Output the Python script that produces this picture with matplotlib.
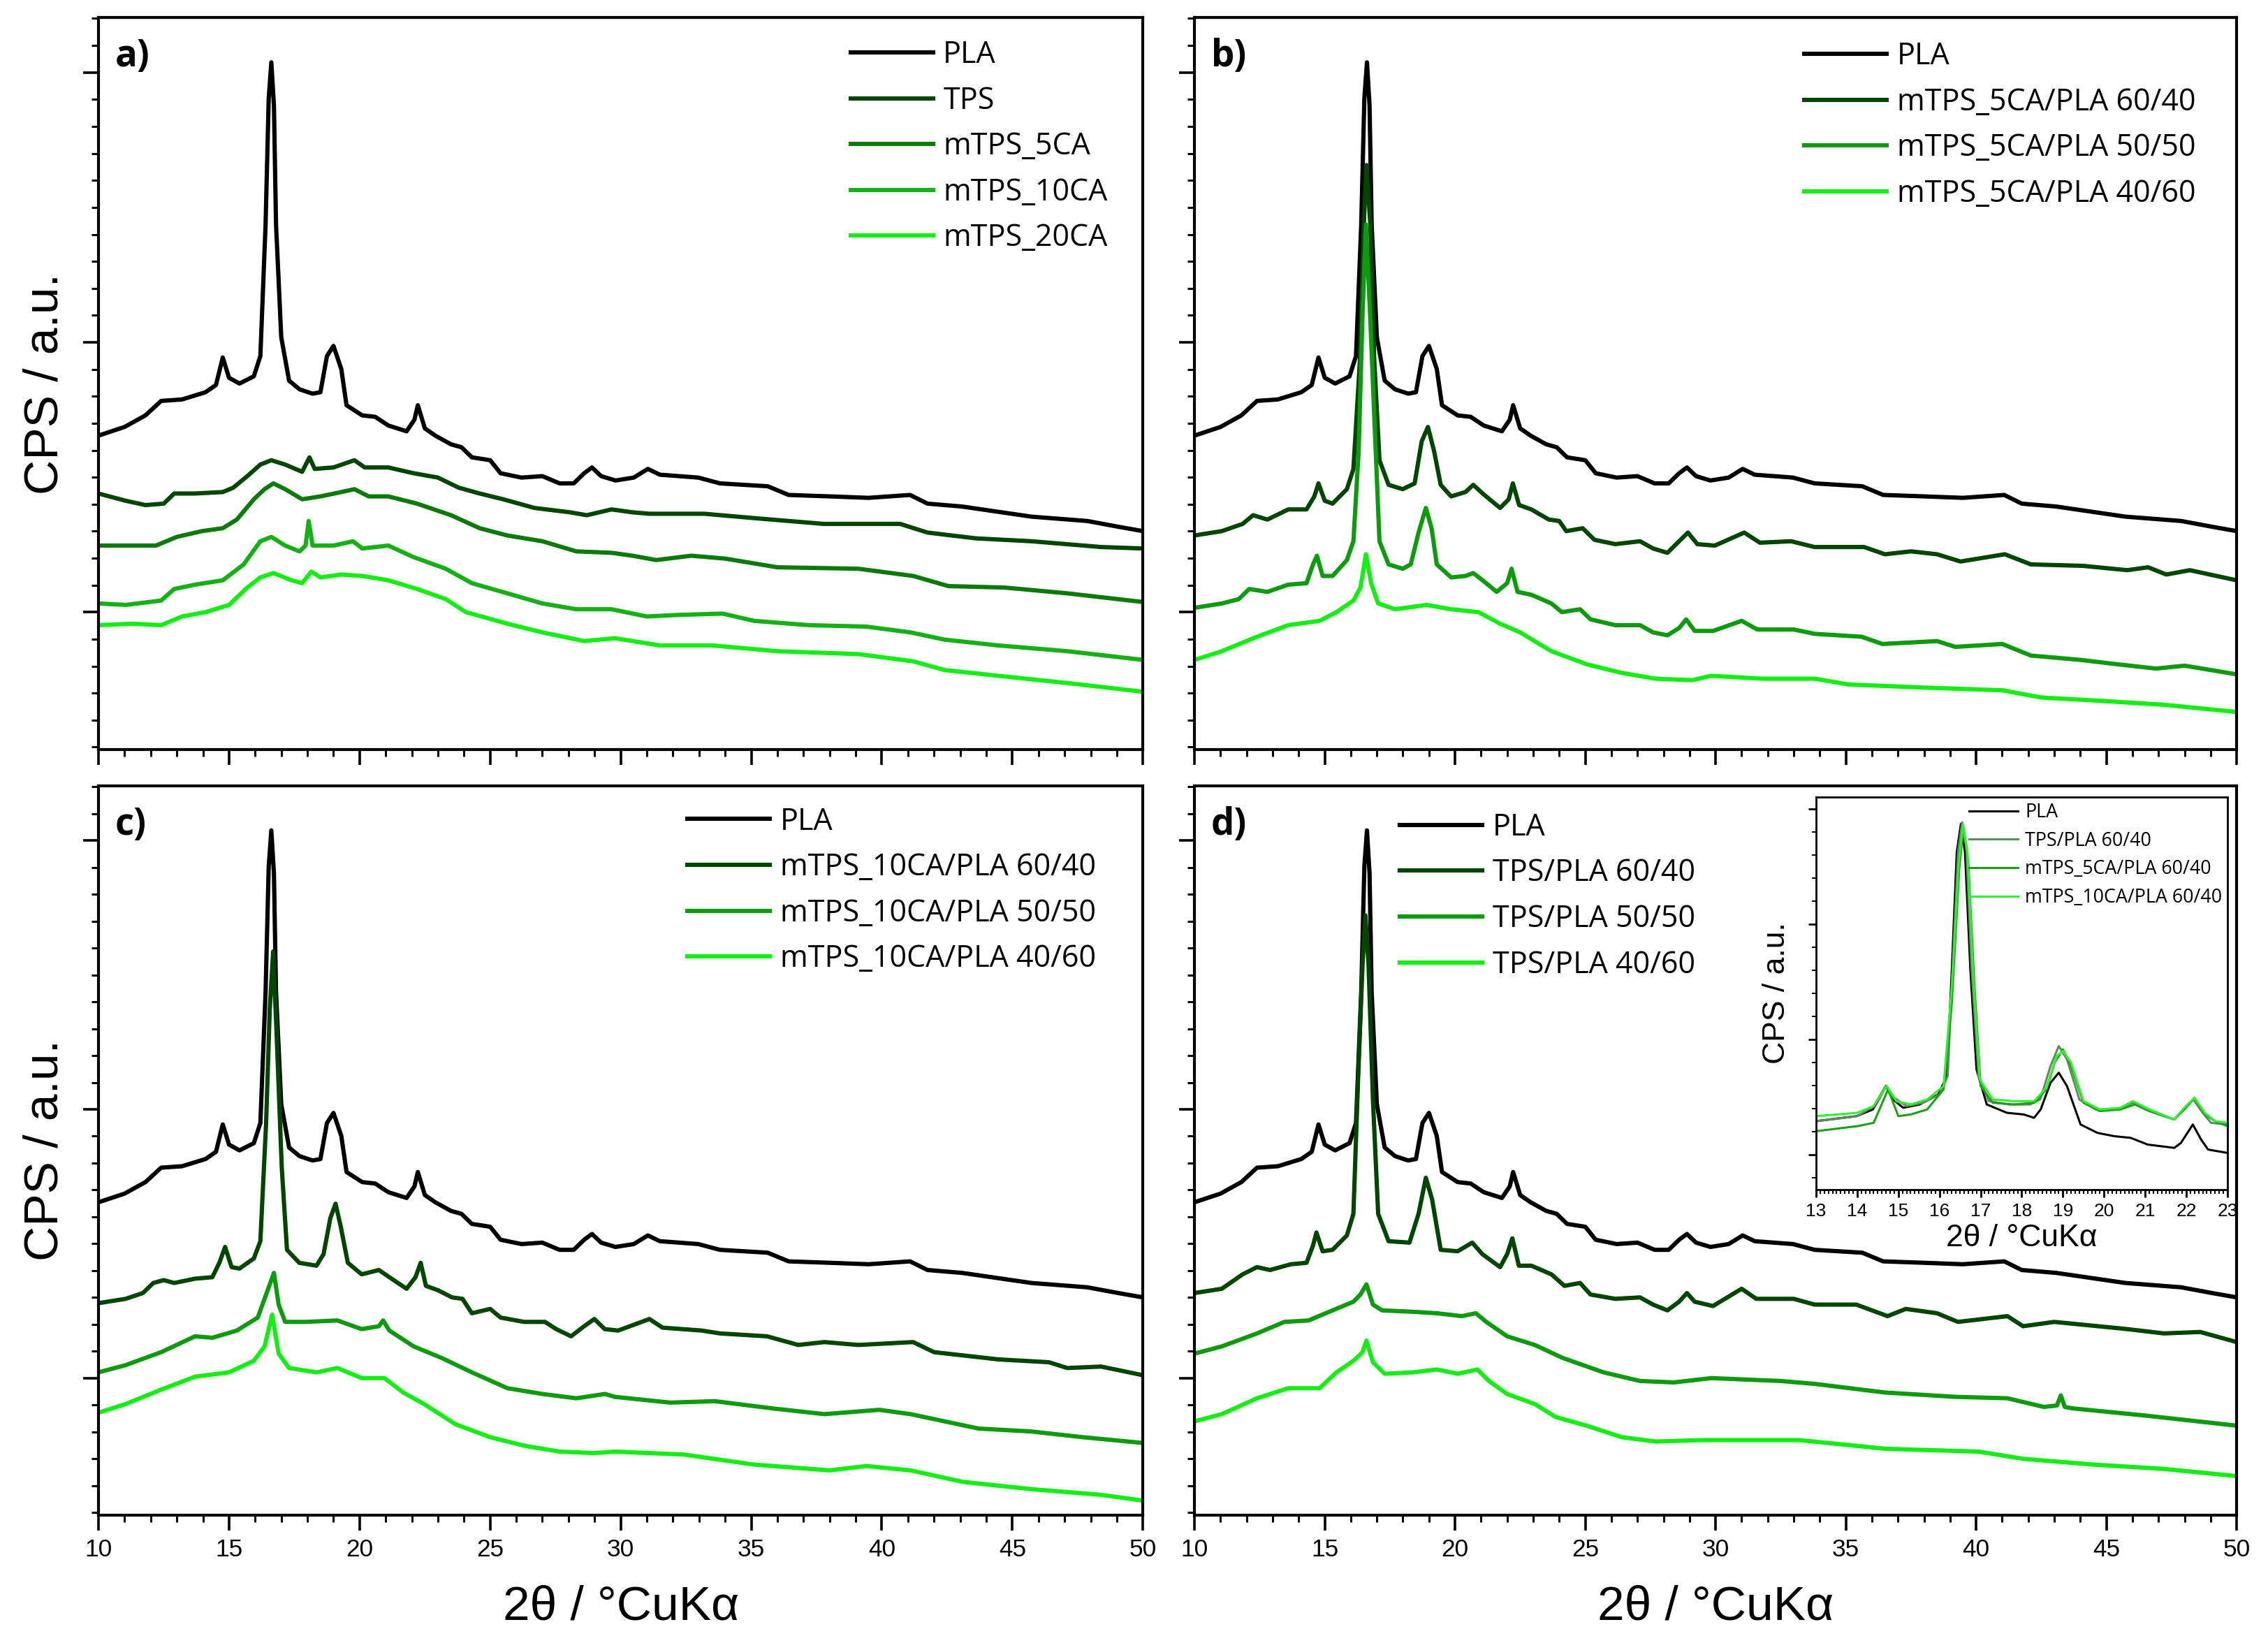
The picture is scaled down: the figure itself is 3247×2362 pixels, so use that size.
import matplotlib.pyplot as plt
from matplotlib.ticker import MultipleLocator, NullFormatter

plt.rcParams['font.family'] = ['Liberation Sans', 'DejaVu Sans']

# --- PLA reference pattern (same in all four panels) ---
pla_x = [10.0, 11.0, 11.8, 12.4, 13.2, 14.1, 14.5, 14.76, 15.0, 15.4, 15.95, 16.2, 16.4, 16.52,
         16.62, 16.72, 16.8, 17.0, 17.3, 17.7, 18.2, 18.5, 18.75, 19.0, 19.3, 19.5, 20.1, 20.6,
         21.1, 21.8, 22.1, 22.23, 22.5, 22.9, 23.5, 23.9, 24.3, 25.0, 25.4, 26.2, 27.0, 27.66,
         28.2, 28.6, 28.9, 29.25, 29.8, 30.5, 31.04, 31.5, 32.97, 33.8, 35.63, 36.43, 38.02,
         39.49, 41.08, 41.75, 43.07, 45.73, 47.87, 49.06, 50.0]
pla_y = [217, 223, 231, 241, 242, 247, 252, 271, 257, 253, 258, 272, 363, 450,
         475, 445, 363, 285, 255, 249, 246, 247, 272, 279, 263, 238, 231, 230,
         224, 220, 228, 238, 222, 217, 211, 209, 202, 200, 191, 188, 189, 184,
         184, 191, 195, 189, 186, 188, 194, 190, 188, 184, 182, 176, 175,
         174, 176, 170, 168, 161, 158, 154, 151]

# --- panel a ---
tps_x = [10.0, 11.04, 11.8, 12.5, 12.9, 13.7, 14.76, 15.16, 15.7, 16.2, 16.62, 17.15, 17.8, 18.08,
         18.28, 19.0, 19.8, 20.2, 21.1, 22.07, 23.0, 23.8, 24.6, 25.5, 26.7, 28.06, 28.7, 29.65,
         30.45, 31.1, 33.2, 35.1, 37.77, 40.7, 41.75, 43.6, 45.73, 48.4, 50.0]
tps_y = [177, 172, 169, 170, 177, 177, 178, 181, 189, 197, 200, 197, 192, 202,
         194, 195, 200, 195, 195, 191, 188, 181, 177, 173, 167, 164, 162, 166,
         164, 163, 163, 160, 156, 156, 150, 146, 144, 140, 139]

m5_x = [10.0, 11.3, 12.2, 13.0, 13.96, 14.76, 15.3, 15.95, 16.36, 16.7, 17.15, 17.8, 18.5, 19.3,
        19.8, 20.35, 21.1, 22.2, 23.5, 24.6, 25.66, 27.0, 28.3, 29.65, 30.45, 31.36, 32.7, 34.0,
        36.0, 39.1, 41.2, 42.55, 44.7, 47.1, 50.0]
m5_y = [141, 141, 141, 147, 151, 153, 159, 173, 180, 184, 180, 173, 175, 178,
        180, 175, 175, 170, 162, 153, 148, 144, 137, 136, 134, 131, 134, 132,
        126, 125, 120, 113, 112, 108, 102]

m10_x = [10.0, 11.04, 12.4, 12.9, 13.7, 14.76, 15.56, 16.2, 16.62, 17.15, 17.7, 17.93, 18.05, 18.2,
         19.0, 19.75, 20.1, 21.1, 22.07, 23.3, 24.3, 25.66, 27.0, 28.3, 29.65, 31.0, 32.1, 33.9,
         35.1, 37.2, 39.4, 41.1, 42.4, 44.45, 47.1, 50.0]
m10_y = [101, 100, 103, 111, 114, 117, 128, 144, 147, 141, 137, 141, 158, 141,
         141, 144, 139, 141, 133, 125, 115, 108, 101, 97, 97, 92, 93, 94,
         89, 86, 85, 81, 76, 72, 68, 62]

m20_x = [10.0, 11.3, 12.4, 13.2, 14.1, 15.0, 15.7, 16.2, 16.7, 17.4, 17.8, 18.15, 18.5, 19.3,
         20.1, 21.1, 22.2, 23.3, 24.07, 25.66, 27.0, 28.6, 29.77, 31.5, 33.5, 36.0, 39.1, 41.2,
         42.4, 44.45, 47.1, 50.0]
m20_y = [86, 87, 86, 92, 95, 100, 112, 119, 122, 117, 115, 123, 119, 121,
         120, 117, 111, 104, 95, 87, 81, 75, 77, 72, 72, 68, 66, 61,
         55, 51, 46, 40]

# --- panel b: mTPS_5CA/PLA blends ---
b64_x = [10.0, 11.05, 11.85, 12.25, 12.8, 13.6, 14.3, 14.6, 14.76, 15.0, 15.3, 15.85, 16.1, 16.35,
         16.5, 16.6, 16.75, 16.9, 17.1, 17.45, 17.99, 18.45, 18.72, 18.96, 19.2, 19.45, 19.85,
         20.4, 20.7, 21.06, 21.73, 22.06, 22.22, 22.46, 22.93, 23.6, 24.0, 24.27, 24.9, 25.35,
         26.15, 27.1, 27.6, 28.15, 28.6, 28.94, 29.3, 29.97, 31.1, 31.7, 32.9, 33.8, 35.7, 36.5,
         37.5, 38.5, 39.4, 41.1, 42.1, 44.1, 45.8, 46.6, 47.3, 48.2, 50.0]
b64_y = [148, 151, 156, 162, 159, 166, 166, 175, 184, 172, 170, 180, 194, 269,
         363, 404, 363, 269, 200, 183, 180, 184, 213, 223, 206, 183, 175,
         178, 183, 177, 167, 173, 184, 169, 166, 159, 158, 151, 153, 145,
         142, 144, 139, 136, 144, 150, 142, 141, 150, 143, 144, 140, 140, 135,
         137, 135, 130, 135, 128, 127, 124, 126, 121, 124, 117]

b55_x = [10.0, 11.05, 11.7, 12.1, 12.8, 13.6, 14.3, 14.55, 14.7, 14.92, 15.3, 15.85, 16.1, 16.3,
         16.45, 16.58, 16.74, 16.92, 17.1, 17.45, 17.99, 18.3, 18.6, 18.88, 19.1, 19.3, 19.85,
         20.4, 20.7, 21.06, 21.6, 22.0, 22.17, 22.4, 22.93, 23.7, 24.1, 24.8, 25.2, 26.15, 27.1,
         27.6, 28.15, 28.6, 28.87, 29.2, 29.9, 31.0, 31.6, 33.0, 33.8, 35.6, 36.4, 38.5, 39.2,
         41.0, 42.1, 44.0, 45.4, 46.9, 48.0, 50.0]
b55_y = [98, 101, 104, 111, 109, 114, 115, 128, 134, 120, 120, 131, 144, 206,
         301, 363, 301, 222, 144, 128, 125, 128, 150, 167, 153, 128, 119,
         120, 122, 117, 109, 115, 125, 109, 107, 101, 95, 97, 90, 86, 86,
         81, 79, 84, 90, 82, 82, 89, 83, 83, 80, 78, 73, 75, 71,
         73, 65, 62, 59, 56, 58, 52]

b46_x = [10.0, 11.05, 12.4, 13.6, 14.8, 15.45, 16.1, 16.37, 16.58, 16.78, 17.05, 17.7, 18.9, 19.85,
         20.9, 21.73, 22.5, 23.7, 25.05, 26.4, 27.7, 29.1, 29.83, 31.8, 33.8, 35.1, 37.8, 41.0,
         42.5, 44.5, 47.2, 50.0]
b46_y = [62, 68, 78, 86, 89, 95, 103, 112, 135, 115, 101, 97, 100, 97,
         95, 87, 81, 68, 59, 53, 49, 48, 51, 49, 49, 45, 43, 41,
         36, 34, 31, 26]

# --- panel c: mTPS_10CA/PLA blends ---
c64_x = [10.0, 11.04, 11.7, 12.1, 12.5, 12.9, 13.7, 14.36, 14.63, 14.85, 15.1, 15.4, 15.95, 16.2,
         16.42, 16.56, 16.69, 16.82, 17.02, 17.22, 17.69, 18.35, 18.62, 18.88, 19.08, 19.28,
         19.55, 20.08, 20.74, 21.14, 21.8, 22.14, 22.34, 22.54, 23.0, 23.54, 23.94, 24.3, 25.0,
         25.4, 26.3, 27.1, 27.53, 28.1, 28.6, 28.99, 29.39, 29.9, 31.1, 31.6, 33.1, 33.8, 35.6,
         36.8, 37.8, 39.1, 41.2, 42.0, 44.45, 46.4, 47.1, 48.4, 50.0]
c64_y = [147, 150, 154, 161, 163, 161, 164, 165, 175, 186, 172, 171, 178, 190,
         272, 351, 391, 335, 241, 184, 175, 173, 181, 206, 216, 200,
         175, 167, 170, 165, 157, 165, 175, 159, 156, 151, 150, 140, 143,
         137, 134, 134, 129, 124, 131, 136, 129, 128, 136, 130, 128, 126, 124,
         118, 120, 118, 120, 113, 108, 106, 102, 103, 97]

c55_x = [10.0, 11.04, 12.4, 13.7, 14.36, 15.3, 16.1, 16.42, 16.72, 16.9, 17.15, 17.95, 19.15, 20.08,
         20.74, 20.9, 21.14, 22.07, 23.14, 24.3, 25.66, 27.0, 28.3, 29.4, 29.77, 31.9, 33.6,
         35.8, 37.8, 39.9, 41.1, 42.4, 43.7, 45.7, 47.7, 50.0]
c55_y = [99, 104, 113, 124, 123, 128, 137, 153, 168, 146, 134, 134, 135, 129,
         131, 135, 128, 117, 109, 99, 88, 84, 81, 84, 82, 78, 79,
         74, 70, 73, 70, 65, 60, 58, 54, 50]

c46_x = [10.0, 11.04, 12.4, 13.7, 15.0, 15.95, 16.36, 16.65, 16.9, 17.3, 18.35, 19.15, 20.08, 20.95,
         21.67, 22.47, 23.67, 25.0, 26.33, 27.66, 28.99, 29.77, 32.4, 35.1, 38.0, 39.4, 41.1,
         43.1, 45.7, 48.4, 50.0]
c46_y = [71, 77, 87, 96, 99, 107, 117, 139, 112, 102, 99, 102, 95, 95,
         85, 77, 63, 54, 48, 44, 43, 44, 42, 35, 31, 34, 31,
         23, 18, 14, 10]

# --- panel d: TPS/PLA blends ---
d64_x = [10.0, 11.05, 11.85, 12.4, 12.9, 13.7, 14.3, 14.55, 14.68, 14.92, 15.3, 15.85, 16.1, 16.28,
         16.45, 16.56, 16.68, 16.85, 17.05, 17.45, 18.25, 18.6, 18.88, 19.12, 19.45, 20.1, 20.66,
         21.05, 21.73, 22.0, 22.2, 22.45, 22.93, 23.7, 24.2, 24.8, 25.2, 26.15, 27.1, 27.6, 28.15,
         28.6, 28.9, 29.2, 29.9, 31.0, 31.56, 33.0, 33.8, 35.4, 36.6, 37.3, 38.5, 39.3, 41.2,
         41.8, 43.0, 45.8, 47.2, 48.6, 50.0]
d64_y = [154, 157, 167, 172, 170, 174, 175, 187, 196, 183, 184, 194, 209, 303,
         382, 416, 382, 288, 209, 190, 189, 209, 234, 219, 184, 183, 189,
         181, 172, 181, 192, 173, 173, 167, 159, 161, 153, 150, 151, 146, 142,
         148, 154, 148, 145, 157, 150, 150, 146, 146, 138, 143, 140, 134, 138,
         131, 134, 129, 126, 127, 120]

d55_x = [10.0, 11.05, 12.4, 13.45, 14.38, 15.3, 16.1, 16.37, 16.6, 16.85, 17.2, 18.4, 19.3, 20.26,
         20.8, 21.2, 22.0, 23.06, 24.13, 25.7, 27.1, 28.4, 29.83, 32.5, 33.8, 36.5, 39.2, 41.2,
         42.6, 43.1, 43.25, 43.4, 43.7, 46.5, 50.0]
d55_y = [112, 117, 126, 134, 135, 142, 148, 153, 160, 146, 142, 141, 140, 138,
         140, 134, 124, 118, 109, 99, 93, 92, 95, 93, 91, 85, 82, 81,
         75, 76, 83, 75, 74, 69, 62]

d46_x = [10.0, 11.05, 12.4, 13.6, 14.8, 15.45, 16.1, 16.45, 16.6, 16.85, 17.3, 18.4, 19.3, 20.1,
         20.86, 21.3, 22.0, 23.06, 23.86, 25.05, 26.4, 27.7, 29.5, 33.2, 36.5, 40.1, 41.8, 44.5,
         47.2, 50.0]
d46_y = [65, 70, 81, 88, 88, 99, 107, 113, 121, 106, 98, 99, 101, 98,
         101, 93, 84, 77, 68, 62, 54, 51, 52, 52, 46, 44, 39, 35,
         32, 27]

# --- inset of panel d (13-23 deg, 60/40 blends) ---
ins_pla_x = [13.0, 13.98, 14.38, 14.59, 14.7, 14.87, 15.12, 15.52, 15.97, 16.18, 16.3, 16.42, 16.52,
             16.62, 16.75, 16.9, 17.15, 17.64, 18.05, 18.3, 18.46, 18.7, 18.9, 19.1, 19.43, 19.84,
             20.25, 20.65, 21.06, 21.71, 21.87, 22.16, 22.36, 22.53, 23.0]
ins_pla_y = [205, 220, 240, 285, 310, 270, 245, 255, 285, 340, 660, 1010, 1095,
             1010, 660, 360, 255, 230, 225, 215, 240, 320, 350, 310, 195, 170,
             160, 155, 135, 125, 140, 195, 150, 120, 110]

ins_tps_x = [13.0, 14.0, 14.4, 14.7, 14.9, 15.2, 15.6, 16.0, 16.2, 16.32, 16.45, 16.55, 16.65, 16.78,
             16.95, 17.2, 17.7, 18.2, 18.45, 18.7, 18.9, 19.1, 19.4, 19.8, 20.3, 20.7, 21.1, 21.7,
             21.95, 22.17, 22.4, 22.6, 23.0]
ins_tps_y = [205, 220, 250, 312, 275, 250, 260, 285, 340, 660, 1010, 1100, 1030, 660,
             340, 265, 255, 255, 270, 370, 430, 390, 270, 240, 240, 260, 240, 210,
             240, 270, 230, 200, 195]

ins_m5_x = [13.0, 14.0, 14.4, 14.75, 15.0, 15.3, 15.7, 16.1, 16.3, 16.48, 16.58, 16.7, 16.85, 17.0,
            17.3, 17.8, 18.3, 18.6, 18.8, 19.0, 19.2, 19.5, 19.9, 20.4, 20.75, 21.1, 21.7, 21.95,
            22.2, 22.45, 22.7, 23.0]
ins_m5_y = [175, 190, 200, 300, 220, 225, 240, 300, 560, 960, 1085, 980, 610, 310,
            260, 255, 260, 300, 380, 420, 370, 260, 235, 240, 255, 235, 210, 240,
            275, 225, 205, 190]

ins_m10_x = [13.0, 14.0, 14.4, 14.72, 14.95, 15.3, 15.7, 16.1, 16.3, 16.47, 16.57, 16.68, 16.82,
             16.98, 17.3, 17.8, 18.3, 18.6, 18.85, 19.0, 19.2, 19.5, 19.9, 20.4, 20.7, 21.1, 21.7,
             21.95, 22.2, 22.45, 22.7, 23.0]
ins_m10_y = [220, 230, 250, 310, 265, 255, 270, 310, 610, 980, 1092, 1010, 640,
             330, 270, 265, 265, 305, 400, 415, 380, 265, 240, 245, 265, 240, 210,
             245, 275, 230, 205, 200]

BLACK = 'black'
DARK = '#004500'
MID5 = '#0b7a0b'
MID10 = '#16b016'
BRIGHT = '#14ee14'
MID = '#0e9a0e'

panels = [
    ('a)', [(pla_x, pla_y, BLACK, 'PLA'), (tps_x, tps_y, DARK, 'TPS'),
            (m5_x, m5_y, MID5, 'mTPS_5CA'), (m10_x, m10_y, MID10, 'mTPS_10CA'),
            (m20_x, m20_y, BRIGHT, 'mTPS_20CA')]),
    ('b)', [(pla_x, pla_y, BLACK, 'PLA'), (b64_x, b64_y, DARK, 'mTPS_5CA/PLA 60/40'),
            (b55_x, b55_y, MID, 'mTPS_5CA/PLA 50/50'), (b46_x, b46_y, BRIGHT, 'mTPS_5CA/PLA 40/60')]),
    ('c)', [(pla_x, pla_y, BLACK, 'PLA'), (c64_x, c64_y, DARK, 'mTPS_10CA/PLA 60/40'),
            (c55_x, c55_y, MID, 'mTPS_10CA/PLA 50/50'), (c46_x, c46_y, BRIGHT, 'mTPS_10CA/PLA 40/60')]),
    ('d)', [(pla_x, pla_y, BLACK, 'PLA'), (d64_x, d64_y, DARK, 'TPS/PLA 60/40'),
            (d55_x, d55_y, MID, 'TPS/PLA 50/50'), (d46_x, d46_y, BRIGHT, 'TPS/PLA 40/60')]),
]

rects = [[0.0434, 0.5457, 0.4604, 0.4437], [0.5265, 0.5457, 0.4594, 0.4437],
         [0.0434, 0.0818, 0.4604, 0.4420], [0.5265, 0.0818, 0.4594, 0.4420]]
leg_anchor = [(0.720, 0.970), (0.585, 0.968), (0.564, 0.972), (0.197, 0.964)]

fig = plt.figure(figsize=(16.24, 11.81), dpi=200)

for i, (tag, curves) in enumerate(panels):
    ax = fig.add_axes(rects[i])
    for xs, ys, col, lab in curves:
        ax.plot(xs, ys, color=col, lw=2.2, label=lab)
    ax.set_xlim(10, 50)
    ax.set_ylim(0, 506)
    ax.xaxis.set_major_locator(MultipleLocator(5))
    ax.xaxis.set_minor_locator(MultipleLocator(1))
    ax.yaxis.set_major_locator(MultipleLocator(186.5, offset=95))
    ax.yaxis.set_minor_locator(MultipleLocator(18.65, offset=95))
    ax.yaxis.set_major_formatter(NullFormatter())
    ax.tick_params(which='major', direction='out', length=8, width=1.3, labelsize=12.7, pad=4)
    ax.tick_params(which='minor', direction='out', length=3.5, width=1.1)
    ax.tick_params(top=False, right=False)
    for s in ax.spines.values():
        s.set_linewidth(1.5)
    if i < 2:
        ax.xaxis.set_major_formatter(NullFormatter())
    else:
        ax.set_xlabel('2θ / °CuKα', fontsize=25, labelpad=12)
    if i % 2 == 0:
        ax.set_ylabel('CPS / a.u.', fontsize=25, labelpad=4)
    ax.text(0.016, 0.972, tag, transform=ax.transAxes, fontsize=19, fontweight='bold',
            va='top', ha='left', family=['Open Sans', 'DejaVu Sans'])
    ax.legend(loc='upper left', bbox_to_anchor=leg_anchor[i], frameon=False, borderpad=0,
              borderaxespad=0, handlelength=2.74, handletextpad=0.34, labelspacing=0.49,
              prop={'family': ['Open Sans', 'DejaVu Sans'], 'size': 15.5})

# inset in panel d
axi = fig.add_axes([0.8005, 0.2790, 0.1813, 0.2379])
axi.plot(ins_pla_x, ins_pla_y, color='black', lw=1.1, label='PLA')
axi.plot(ins_tps_x, ins_tps_y, color='#5b8c5b', lw=1.1, label='TPS/PLA 60/40')
axi.plot(ins_m5_x, ins_m5_y, color='#1aa01a', lw=1.1, label='mTPS_5CA/PLA 60/40')
axi.plot(ins_m10_x, ins_m10_y, color='#33ee33', lw=1.1, label='mTPS_10CA/PLA 60/40')
axi.set_xlim(13, 23)
axi.set_ylim(0, 1175)
axi.xaxis.set_major_locator(MultipleLocator(1))
axi.xaxis.set_minor_locator(MultipleLocator(0.1))
axi.yaxis.set_major_locator(MultipleLocator(345, offset=105))
axi.yaxis.set_minor_locator(MultipleLocator(69, offset=105))
axi.yaxis.set_major_formatter(NullFormatter())
axi.tick_params(which='major', direction='out', length=4, width=1.0, labelsize=9.5, pad=3)
axi.tick_params(which='minor', direction='out', length=2, width=0.7)
axi.tick_params(top=False, right=False)
for s in axi.spines.values():
    s.set_linewidth(1.0)
axi.set_xlabel('2θ / °CuKα', fontsize=16, labelpad=2)
axi.set_ylabel('CPS / a.u.', fontsize=16, labelpad=6)
axi.legend(loc='upper left', bbox_to_anchor=(0.372, 0.986), frameon=False, borderpad=0,
           borderaxespad=0, handlelength=2.6, handletextpad=0.37, labelspacing=0.47,
           prop={'family': ['Open Sans', 'DejaVu Sans'], 'size': 9.7})

fig.savefig('out.png', dpi=200)
